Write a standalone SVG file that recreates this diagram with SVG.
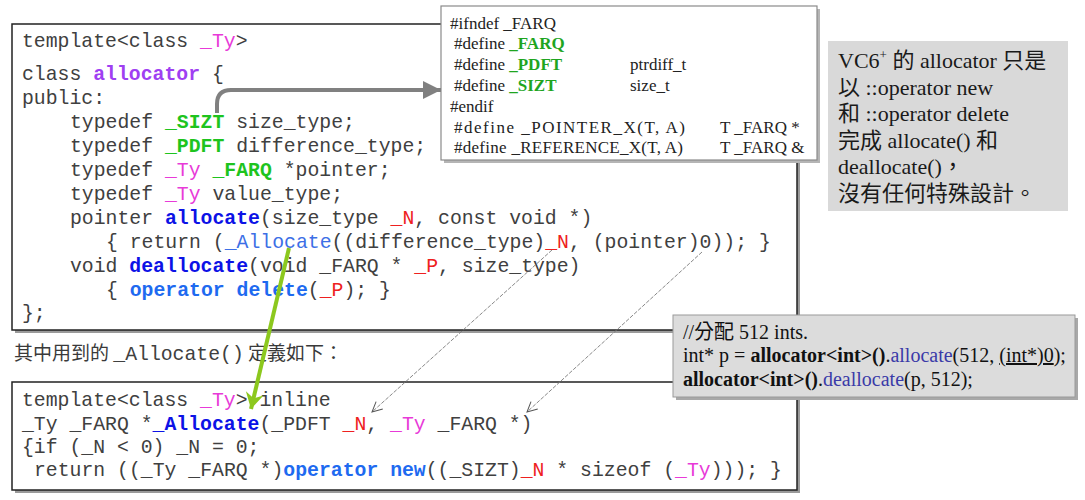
<svg xmlns="http://www.w3.org/2000/svg" width="1085" height="500" viewBox="0 0 1085 500">
<style>
.code{font-family:"Liberation Mono","DejaVu Sans Mono",monospace;font-size:19.8px;fill:#404040}
.mag{fill:#e83ad8}
.grn{fill:#1ec41e;font-weight:bold}
.pur{fill:#9f3ff2;font-weight:bold}
.bb{fill:#0c12e6;font-weight:bold}
.lb{fill:#1e6af0;font-weight:bold}
.blu{fill:#3c6fe6}
.red{fill:#ee2020}
.ser{font-family:"Liberation Serif","Noto Sans CJK TC",serif;font-size:17px;fill:#222}
.dg{fill:#1fa51f;font-weight:bold}
.note{font-family:"Liberation Serif","Noto Sans CJK TC",serif;font-size:22px;fill:#1a1a1a}
.call{font-family:"Liberation Serif","Noto Sans CJK TC",serif;font-size:20px;fill:#111}
.cb{fill:#3a3aa8}
.cjk{font-family:"Noto Sans CJK TC","Noto Sans CJK SC",sans-serif;font-size:19px;fill:#3a3a3a}
.box{fill:#fff;stroke:#222;stroke-width:1.5}
.shadow{fill:#9a9a9a}
.thin{stroke:#7a7a7a;stroke-width:0.9;fill:none;stroke-dasharray:4 1.5}
</style>
<defs>
<marker id="vhead" markerUnits="userSpaceOnUse" markerWidth="14" markerHeight="14" refX="11" refY="6" orient="auto">
<path d="M1,1 L11,6 L1,11" fill="none" stroke="#555" stroke-width="1"/>
</marker>
<marker id="ghead" markerUnits="userSpaceOnUse" markerWidth="20" markerHeight="20" refX="18" refY="9" orient="auto">
<path d="M0,0 L18,9 L0,18 Z" fill="#808080"/>
</marker>
<marker id="lhead" markerUnits="userSpaceOnUse" markerWidth="22" markerHeight="22" refX="17" refY="10" orient="auto">
<path d="M1,1 L17,10 L1,19 L6,10 Z" fill="#8cc81e"/>
</marker>
</defs>

<g id="class-allocator">
<rect class="shadow" x="15" y="27" width="785" height="306"/>
<rect class="box" x="12" y="24" width="785" height="306"/>
<text class="code" xml:space="preserve" x="22" y="47">template&lt;class <tspan class="mag">_Ty</tspan>&gt;</text>
<text class="code" xml:space="preserve" x="22" y="80">class <tspan class="pur">allocator</tspan> {</text>
<text class="code" xml:space="preserve" x="22" y="104">public:</text>
<text class="code" xml:space="preserve" x="70" y="128">typedef <tspan class="grn">_SIZT</tspan> size_type;</text>
<text class="code" xml:space="preserve" x="70" y="152">typedef <tspan class="grn">_PDFT</tspan> difference_type;</text>
<text class="code" xml:space="preserve" x="70" y="176">typedef <tspan class="mag">_Ty</tspan> <tspan class="grn">_FARQ</tspan> *pointer;</text>
<text class="code" xml:space="preserve" x="70" y="200">typedef <tspan class="mag">_Ty</tspan> value_type;</text>
<text class="code" xml:space="preserve" x="70" y="224">pointer <tspan class="bb">allocate</tspan>(size_type <tspan class="red">_N</tspan>, const void *)</text>
<text class="code" xml:space="preserve" x="106" y="248">{ return (<tspan class="blu">_Allocate</tspan>((difference_type)<tspan class="red">_N</tspan>, (pointer)0)); }</text>
<text class="code" xml:space="preserve" x="70" y="272">void <tspan class="bb">deallocate</tspan>(void _FARQ * <tspan class="red">_P</tspan>, size_type)</text>
<text class="code" xml:space="preserve" x="106" y="296">{ <tspan class="lb">operator delete</tspan>(<tspan class="red">_P</tspan>); }</text>
<text class="code" xml:space="preserve" x="22" y="319">};</text>
</g>

<g id="defines">
<rect x="444" y="9" width="376" height="154" fill="#b5b5b5"/>
<rect x="441" y="6" width="376" height="154" fill="#fff" stroke="#8a8a8a" stroke-width="1.2"/>
<text class="ser" xml:space="preserve" x="450" y="29">#ifndef _FARQ</text>
<text class="ser" xml:space="preserve" x="454" y="49">#define <tspan class="dg">_FARQ</tspan></text>
<text class="ser" xml:space="preserve" x="454" y="70">#define <tspan class="dg">_PDFT</tspan></text>
<text class="ser" x="630" y="70">ptrdiff_t</text>
<text class="ser" xml:space="preserve" x="454" y="91">#define <tspan class="dg">_SIZT</tspan></text>
<text class="ser" x="630" y="91">size_t</text>
<text class="ser" x="450" y="112">#endif</text>
<text class="ser" xml:space="preserve" x="454" y="133" textLength="231" lengthAdjust="spacing">#define _POINTER_X(T, A)</text>
<text class="ser" xml:space="preserve" x="720" y="133">T _FARQ *</text>
<text class="ser" xml:space="preserve" x="454" y="153" textLength="229" lengthAdjust="spacing">#define _REFERENCE_X(T, A)</text>
<text class="ser" xml:space="preserve" x="720" y="153">T _FARQ &amp;</text>
</g>

<g id="note">
<rect x="828" y="41" width="240" height="170" fill="#d9d9d9"/>
<text class="note" xml:space="preserve" x="838" y="68">VC6<tspan font-size="13" dy="-9">+</tspan><tspan dy="9"> 的 allocator 只是</tspan></text>
<text class="note" xml:space="preserve" x="838" y="95">以 ::operator new</text>
<text class="note" xml:space="preserve" x="838" y="121">和 ::operator delete</text>
<text class="note" xml:space="preserve" x="838" y="148">完成 allocate() 和</text>
<text class="note" xml:space="preserve" x="838" y="174">deallocate()，</text>
<text class="note" xml:space="preserve" x="838" y="201">沒有任何特殊設計。</text>
</g>

<g id="caption">
<text xml:space="preserve" x="14" y="360"><tspan class="cjk">其中用到的 </tspan><tspan class="code" font-size="19">_Allocate()</tspan><tspan class="cjk"> 定義如下：</tspan></text>
</g>

<g id="allocate-def">
<rect class="shadow" x="15" y="385" width="785" height="108"/>
<rect class="box" x="12" y="382" width="785" height="108"/>
<text class="code" xml:space="preserve" x="22" y="406">template&lt;class <tspan class="mag">_Ty</tspan>&gt; inline</text>
<text class="code" xml:space="preserve" x="22" y="430">_Ty _FARQ *<tspan class="bb">_Allocate</tspan>(_PDFT <tspan class="red">_N</tspan>, <tspan class="mag">_Ty</tspan> _FARQ *)</text>
<text class="code" xml:space="preserve" x="22" y="453">{if (_N &lt; 0) _N = 0;</text>
<text class="code" xml:space="preserve" x="34" y="476">return ((_Ty _FARQ *)<tspan class="lb">operator new</tspan>((_SIZT)<tspan class="red">_N</tspan> * sizeof (<tspan class="mag">_Ty</tspan>))); }</text>
</g>

<g id="usage">
<rect x="676" y="318" width="402" height="82" fill="#a8a8a8"/>
<rect x="673" y="315" width="402" height="82" fill="#dcdcdc" stroke="#9a9a9a" stroke-width="1"/>
<text class="call" xml:space="preserve" x="683" y="339">//分配 512 ints.</text>
<text class="call" xml:space="preserve" x="683" y="362">int* p = <tspan font-weight="bold">allocator&lt;int&gt;()</tspan>.<tspan class="cb">allocate</tspan>(512, <tspan text-decoration="underline">(int*)0</tspan>);</text>
<text class="call" xml:space="preserve" x="683" y="386"><tspan font-weight="bold">allocator&lt;int&gt;()</tspan>.<tspan class="cb">deallocate</tspan>(p, 512);</text>
</g>

<g id="connectors">
<path d="M217,113 L217,104 Q217,90 231,90 L441,90" fill="none" stroke="#808080" stroke-width="4" marker-end="url(#ghead)"/>
<line class="thin" x1="552" y1="250" x2="372" y2="412" marker-end="url(#vhead)"/>
<line class="thin" x1="702" y1="252" x2="527" y2="412" marker-end="url(#vhead)"/>
<line x1="289" y1="248" x2="251" y2="409" stroke="#8cc81e" stroke-width="4" marker-end="url(#lhead)"/>
</g>
</svg>
